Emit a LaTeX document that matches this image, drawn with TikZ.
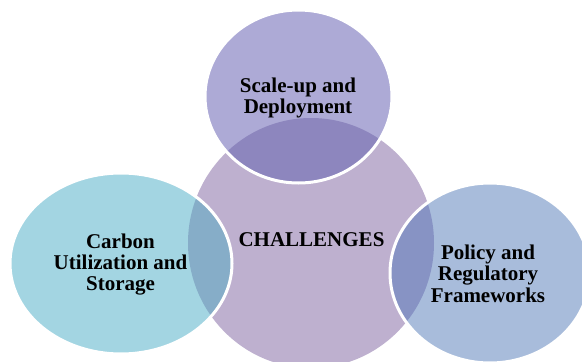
\documentclass[tikz,border=0pt]{standalone}
\usepackage{fontspec}
\setmainfont{Liberation Serif}
\definecolor{coreFill}{RGB}{190,176,207}
\definecolor{topFill}{RGB}{173,170,214}
\definecolor{topMix}{RGB}{141,134,190}
\definecolor{leftFill}{RGB}{163,213,226}
\definecolor{leftMix}{RGB}{134,173,200}
\definecolor{rightFill}{RGB}{168,188,219}
\definecolor{rightMix}{RGB}{135,147,196}
\tikzset{
  label/.style={inner sep=0pt, align=center, text=black,
    font=\bfseries\fontsize{21}{21.3}\selectfont},
  rim/.style={draw=white, line width=3pt}
}
\begin{document}
\begin{tikzpicture}[x=1pt,y=-1pt]
  \useasboundingbox (0,0) rectangle (582,362);
  \fill[white] (0,0) rectangle (582,362);
  \clip (0,0) rectangle (582,362);

  % centres of the four ellipses
  \coordinate (cCore)  at (311,243);
  \coordinate (cTop)   at (298.5,96.5);
  \coordinate (cLeft)  at (121,263.5);
  \coordinate (cRight) at (490,273);

  % central ellipse
  \fill[coreFill] (cCore) ellipse [x radius=123, y radius=125];

  % top ellipse with its overlap
  \fill[topFill] (cTop) ellipse [x radius=93.5, y radius=86.5];
  \begin{scope}
    \clip (cTop) ellipse [x radius=93.5, y radius=86.5];
    \fill[topMix] (cCore) ellipse [x radius=123, y radius=125];
  \end{scope}
  \draw[rim] (cTop) ellipse [x radius=93.5, y radius=86.5];

  % left ellipse with its overlap
  \fill[leftFill] (cLeft) ellipse [x radius=111, y radius=90.5];
  \begin{scope}
    \clip (cLeft) ellipse [x radius=111, y radius=90.5];
    \fill[leftMix] (cCore) ellipse [x radius=123, y radius=125];
  \end{scope}
  \draw[rim] (cLeft) ellipse [x radius=111, y radius=90.5];

  % right ellipse with its overlap
  \fill[rightFill] (cRight) ellipse [x radius=100, y radius=90];
  \begin{scope}
    \clip (cRight) ellipse [x radius=100, y radius=90];
    \fill[rightMix] (cCore) ellipse [x radius=123, y radius=125];
  \end{scope}
  \draw[rim] (cRight) ellipse [x radius=100, y radius=90];

  % labels
  \node[label] (core)  at (311.5,240) {CHALLENGES};
  \node[label] (scale) at (298,97.8) {Scale-up and\\Deployment};
  \node[label] (ccus)  at (120.5,264.7) {Carbon\\Utilization and\\Storage};
  \node[label] (policy) at (488,273.6) {Policy and\\Regulatory\\Frameworks};
\end{tikzpicture}
\end{document}
